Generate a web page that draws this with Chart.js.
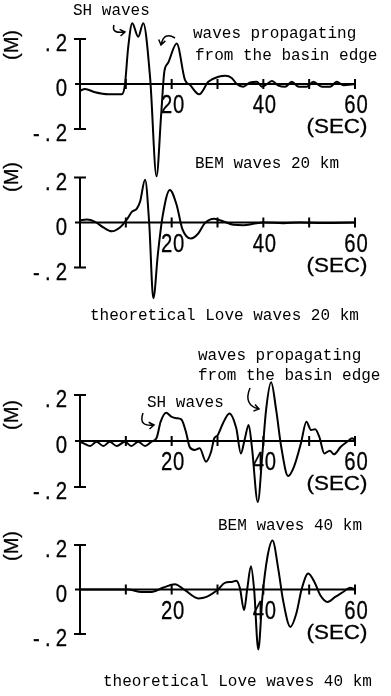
<!DOCTYPE html>
<html>
<head>
<meta charset="utf-8">
<script src="https://cdn.jsdelivr.net/npm/chart.js@4.4.1/dist/chart.umd.min.js"></script>
<style>
  html, body { margin: 0; padding: 0; background: #fff; }
  #page { position: relative; width: 391px; height: 696px; overflow: hidden; background: #fff; }
  #page canvas { position: absolute; left: 0; }
</style>
</head>
<body>
<div id="page">
  <canvas id="bem20"></canvas>
  <canvas id="love20"></canvas>
  <canvas id="bem40"></canvas>
  <canvas id="love40"></canvas>
</div>
<script>
// ---- values (time in sec, displacement in m) ----
const bem20Time = [0, 1.1, 3.3, 6.2, 9.1, 9.8, 10.5, 11.4, 12.7, 13.8, 15.3, 16.7, 17.7, 18.4, 19.2, 21.1, 22.9, 24, 26, 28,
  30.2, 31.7, 33.1, 34.2, 35.6, 37.1, 38.6, 39.7, 40.8, 41.9, 43.3, 44.8, 46.2, 47.7, 49.5, 50.9, 52.8, 54.6, 56, 57.5, 60];
const bem20Disp = [-0.03, -0.022, -0.037, -0.046, -0.046, -0.004, 0.16, 0.27, 0.21, 0.27, 0.027, -0.41, -0.138, 0.055, 0.093, 0.18, 0.018, -0.004, -0.046, 0.01,
  0.032, 0.037, 0.027, 0, -0.012, 0.007, 0.01, -0.012, 0, 0.013, -0.007, -0.012, 0.01, -0.012, -0.012, 0.01, -0.012, -0.012, 0.01, -0.005, 0];

const love20Time = [0, 1.5, 3.3, 5.1, 6.9, 8.7, 10.2, 11.3, 12.4, 13.1, 14.2, 15.1, 16.0, 17.0, 18.0, 19.6, 21.1, 22.3, 24.2, 25.8,
  27.2, 29.3, 31.3, 33.5, 35.7, 37.8, 40, 44.4, 48, 53, 60];
const love20Disp = [0.01, 0.013, 0.003, -0.022, -0.039, -0.022, 0.013, 0.047, 0.062, 0.092, 0.19, -0.004, -0.337, -0.138, 0.025, 0.145, 0.077, -0.027, -0.071, -0.049,
  -0.004, 0.017, 0.005, -0.01, -0.012, -0.006, 0, -0.003, 0, -0.002, 0];

const bem40Time = [0, 0.8, 2.2, 3.6, 5.1, 6.5, 8, 9.8, 11.2, 12.7, 14.2, 15.6, 16.7, 17.6, 18.8, 19.9, 21, 22.1, 23.2, 23.9,
  25, 26.1, 27.5, 28.6, 29.3, 30, 31.2, 32.6, 34.1, 35.1, 35.9, 36.8, 37.5, 38.8, 39.8, 40.6, 41.7, 42.8, 43.9, 45.4,
  46.7, 48.2, 49.4, 50.4, 51.3, 52.2, 53.3, 54.5, 55.4, 56.9, 58.3, 59.4, 60];
const bem40Disp = [-0.003, -0.01, -0.022, -0.003, -0.022, -0.003, -0.022, -0.003, -0.022, -0.003, -0.022, -0.003, 0.013, 0.084, 0.123, 0.106, 0.099, 0.094, 0.033, -0.025,
  -0.039, -0.032, -0.09, -0.047, 0.012, 0.024, 0.077, 0.12, 0.055, -0.054, 0.004, 0.07, -0.025, -0.265, -0.054, 0.135, 0.255, 0.135, -0.025, -0.152,
  -0.111, -0.01, 0.084, 0.048, 0.051, 0.019, -0.054, -0.042, -0.058, -0.025, -0.003, 0.012, 0];

const love40Time = [0, 5, 10.5, 13.4, 15.6, 18.2, 20.7, 22.9, 25.8, 27.6, 30.1, 31.6, 33.1, 34.1, 34.9, 35.8, 36.5, 37.3, 38, 38.9,
  39.8, 40.9, 42, 43.3, 44.3, 45.9, 47.2, 48.4, 49.8, 51.3, 52.4, 54, 55.7, 57.5, 58.9, 60];
const love40Disp = [0, 0, 0, -0.011, -0.011, 0.009, 0.024, -0.003, -0.04, -0.033, 0, 0.03, 0.034, 0.039, 0.005, -0.093, 0.005, 0.105, -0.003, -0.27,
  -0.033, 0.147, 0.22, 0.087, -0.048, -0.168, -0.108, 0.005, 0.072, 0.027, -0.025, -0.056, -0.033, -0.01, 0.008, 0];

// axis ticks and labels
const xTickValues = [10, 20, 30, 40, 50, 60];
const xLabelValues = [20, 40, 60];
const yTickValues = [0.2, 0, -0.2];
const yTickLabels = ['.2', '0', '-.2'];
const xUnit = '(SEC)';
const yUnit = '(M)';

// annotation texts
const bem20Notes = ['SH waves', 'waves propagating', 'from the basin edge', 'BEM waves 20 km'];
const love20Notes = ['theoretical Love waves 20 km'];
const bem40Notes = ['waves propagating', 'from the basin edge', 'SH waves'];
const love40Notes = ['BEM waves 40 km', 'theoretical Love waves 40 km'];

// ---- layout (page pixels) ----
const AXIS_LEFT = 80;          // x pixel of t = 0
const AXIS_RIGHT = 355;        // x pixel of t = 60
const PAGE_W = 391;

const panels = [
  { id: 'bem20', top: 0, height: 185, zeroY: 84, px02: 45, time: bem20Time, disp: bem20Disp, unitY: 45,
    notes: bem20Notes, notePos: [[73, 15], [193, 38], [195, 60], [195, 168]],
    arrows: [[[114, 25], [111, 34], [125, 32]], [[175, 38], [164, 31], [161, 45]]] },
  { id: 'love20', top: 160, height: 170, zeroY: 222.5, px02: 45, time: love20Time, disp: love20Disp, unitY: 177,
    notes: love20Notes, notePos: [[90, 320]], arrows: [] },
  { id: 'bem40', top: 330, height: 185, zeroY: 441, px02: 46, time: bem40Time, disp: bem40Disp, unitY: 415,
    notes: bem40Notes, notePos: [[198, 360], [198, 380], [147, 407]],
    arrows: [[[143, 413], [138, 427], [154, 425]], [[250, 388], [243, 405], [259, 409]]] },
  { id: 'love40', top: 515, height: 181, zeroY: 589.5, px02: 44.5, time: love40Time, disp: love40Disp, unitY: 546,
    notes: love40Notes, notePos: [[218, 530], [103, 686]], arrows: [] }
];

// plotter-style text: horizontally scaled
function drawScaledText(ctx, text, x, y, size, sx, align, spacing) {
  ctx.save();
  ctx.font = size + 'px "Liberation Sans", Arial, sans-serif';
  ctx.letterSpacing = (spacing || 0) + 'px';
  const w = (ctx.measureText(text).width - (spacing || 0)) * sx;
  const left = align === 'right' ? x - w : align === 'center' ? x - w / 2 : x;
  ctx.translate(left, y);
  ctx.scale(sx, 1);
  ctx.textAlign = 'left';
  ctx.textBaseline = 'alphabetic';
  ctx.lineWidth = 0.3;
  ctx.fillText(text, 0, 0);
  ctx.strokeText(text, 0, 0);
  ctx.restore();
}

function drawArrow(ctx, pts, top) {
  const [a, c, b] = pts.map(p => [p[0], p[1] - top]);
  ctx.beginPath();
  ctx.moveTo(a[0], a[1]);
  ctx.quadraticCurveTo(c[0], c[1], b[0], b[1]);
  const ang = Math.atan2(b[1] - c[1], b[0] - c[0]);
  const L = 6;
  ctx.moveTo(b[0] - L * Math.cos(ang - 0.6), b[1] - L * Math.sin(ang - 0.6));
  ctx.lineTo(b[0], b[1]);
  ctx.lineTo(b[0] - L * Math.cos(ang + 0.6), b[1] - L * Math.sin(ang + 0.6));
  ctx.stroke();
}

function makeAxesPlugin(panel) {
  return {
    id: 'seismoAxes',
    beforeDatasetsDraw(chart) {
      const { ctx, scales: { x, y } } = chart;
      const x0 = x.getPixelForValue(0);
      const yz = y.getPixelForValue(0);
      ctx.save();
      ctx.strokeStyle = '#000';
      ctx.fillStyle = '#000';
      ctx.lineWidth = 2;
      ctx.lineCap = 'butt';

      // amplitude bar with end caps
      const yTop = y.getPixelForValue(0.2), yBot = y.getPixelForValue(-0.2);
      ctx.beginPath();
      ctx.moveTo(x0, yTop); ctx.lineTo(x0, yBot);
      ctx.moveTo(x0 - 6, yTop); ctx.lineTo(x0 + 6, yTop);
      ctx.moveTo(x0 - 6, yBot); ctx.lineTo(x0 + 6, yBot);
      ctx.stroke();

      // time axis on the zero line
      ctx.beginPath();
      ctx.moveTo(x0 - 5, yz);
      ctx.lineTo(x.getPixelForValue(60) + 1, yz);
      xTickValues.forEach(t => {
        const px = x.getPixelForValue(t);
        ctx.moveTo(px, yz - 5);
        ctx.lineTo(px, yz + 5);
      });
      ctx.stroke();

      xLabelValues.forEach(t => {
        drawScaledText(ctx, String(t), x.getPixelForValue(t) + 1, yz + 29, 26, 0.78, 'center', 1);
      });
      drawScaledText(ctx, xUnit, x.getPixelForValue(60) - 18, yz + 49, 20, 1.12, 'center', 0);

      yTickValues.forEach((v, i) => {
        drawScaledText(ctx, yTickLabels[i], 67, y.getPixelForValue(v) + 12, 24, 0.85, 'right', 6);
      });

      // rotated unit label
      ctx.save();
      ctx.translate(12, panel.unitY - panel.top);
      ctx.rotate(-Math.PI / 2);
      ctx.font = '20px "Liberation Sans", Arial, sans-serif';
      ctx.textAlign = 'center';
      ctx.textBaseline = 'middle';
      ctx.lineWidth = 0.3;
      ctx.fillText(yUnit, 0, 0);
      ctx.strokeText(yUnit, 0, 0);
      ctx.restore();
      ctx.restore();
    },
    afterDatasetsDraw(chart) {
      const { ctx } = chart;
      ctx.save();
      ctx.fillStyle = '#000';
      ctx.strokeStyle = '#000';
      ctx.lineWidth = 1.5;
      ctx.font = '16px "Liberation Mono", "DejaVu Sans Mono", monospace';
      ctx.textAlign = 'left';
      ctx.textBaseline = 'alphabetic';
      panel.notes.forEach((txt, i) => {
        const [px, py] = panel.notePos[i];
        ctx.fillText(txt, px, py - panel.top);
      });
      panel.arrows.forEach(a => drawArrow(ctx, a, panel.top));
      ctx.restore();
    }
  };
}

panels.forEach(panel => {
  const canvas = document.getElementById(panel.id);
  canvas.width = PAGE_W;
  canvas.height = panel.height;
  canvas.style.top = panel.top + 'px';
  canvas.style.width = PAGE_W + 'px';
  canvas.style.height = panel.height + 'px';

  const pxPerSec = (AXIS_RIGHT - AXIS_LEFT) / 60;
  const yMax = (panel.zeroY - panel.top) / panel.px02 * 0.2;
  const yMin = -(panel.top + panel.height - panel.zeroY) / panel.px02 * 0.2;

  new Chart(canvas, {
    type: 'line',
    data: {
      datasets: [{
        data: panel.time.map((t, i) => ({ x: t, y: panel.disp[i] })),
        borderColor: '#000',
        borderWidth: 2,
        pointRadius: 0,
        fill: false,
        cubicInterpolationMode: 'monotone'
      }]
    },
    options: {
      responsive: false,
      animation: false,
      devicePixelRatio: 1,
      layout: { padding: 0 },
      plugins: { legend: { display: false }, tooltip: { enabled: false } },
      scales: {
        x: { type: 'linear', display: false, min: -AXIS_LEFT / pxPerSec, max: (PAGE_W - AXIS_LEFT) / pxPerSec },
        y: { type: 'linear', display: false, min: yMin, max: yMax }
      }
    },
    plugins: [makeAxesPlugin(panel)]
  });
});
</script>
</body>
</html>
